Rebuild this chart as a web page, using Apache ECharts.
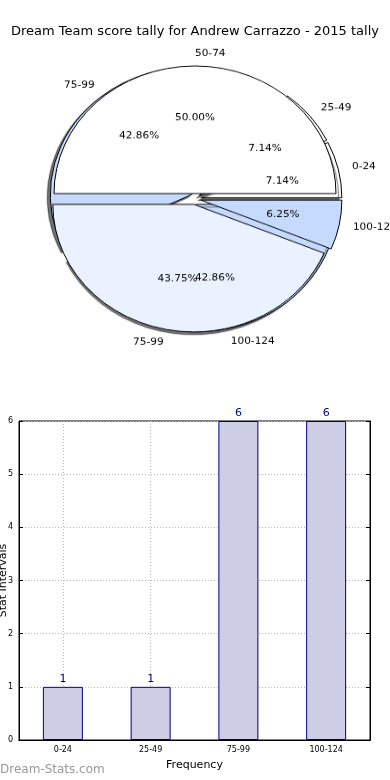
<!DOCTYPE html>
<html><head><meta charset="utf-8">
<script src="https://cdn.jsdelivr.net/npm/echarts@6/dist/echarts.min.js"></script>
<style>
html,body{margin:0;padding:0;background:#fff;}
#main{position:absolute;left:0;top:0;width:390px;height:780px;}
#pie{position:absolute;left:0;top:0;width:390px;height:400px;transform-origin:195px 199px;transform:scaleY(0.905);}
</style></head><body>
<div id="main"></div><div id="pie"></div>
<script>
const chartTitle = 'Dream Team score tally for Andrew Carrazzo - 2015 tally';
const pieACategories = ['0-24', '25-49', '75-99', '100-124'];
const pieAValues = [1, 1, 6, 6];
const pieAColors = ['#ffffff', '#ffffff', '#c6daff', '#c6daff'];
const pieBCategories = ['50-74', '75-99', '100-124'];
const pieBValues = [8, 7, 1];
const pieBColors = ['#ffffff', '#eaf2ff', '#c6daff'];
const barCategories = ['0-24', '25-49', '75-99', '100-124'];
const barValues = [1, 1, 6, 6];
const yTicks = [0, 1, 2, 3, 4, 5, 6];
const xAxisName = 'Frequency';
const yAxisName = 'Stat Intervals';
const watermark = 'Dream-Stats.com';

const FONT = 'DejaVu Sans';
const R = 141;
const CENTER = [195, 199];
const OFFSET = 6;

function sliceData(cats, vals, colors, withShadow, transparent) {
  return cats.map((c, i) => {
    const st = transparent
      ? { color: 'rgba(0,0,0,0)', borderWidth: 0 }
      : { color: colors[i], borderColor: '#000', borderWidth: 1 };
    if (withShadow && !transparent) {
      st.shadowColor = 'rgba(0,0,0,0.55)';
      st.shadowBlur = 1;
      st.shadowOffsetX = -3;
      st.shadowOffsetY = 3;
    }
    return { name: c, value: vals[i], selected: true, itemStyle: st, select: { itemStyle: st } };
  });
}

function shapeSeries(cats, vals, colors, withShadow) {
  return {
    type: 'pie', center: CENTER, radius: [0, R], startAngle: 0, clockwise: false,
    selectedMode: 'multiple', selectedOffset: OFFSET, avoidLabelOverlap: false,
    animation: false, silent: true, emphasis: { disabled: true },
    labelLayout: { hideOverlap: false },
    label: { show: true, position: 'outside', formatter: '{b}', fontSize: 10.5, color: '#000',
             fontFamily: FONT, distanceToLabelLine: 0 },
    labelLine: { show: false, length: Math.round(R * 0.1), length2: 0 },
    data: sliceData(cats, vals, colors, withShadow, false)
  };
}
function pctSeries(cats, vals) {
  return {
    type: 'pie', center: CENTER, radius: [0, 2 * (0.6 * R - 4)], startAngle: 0, clockwise: false,
    selectedMode: 'multiple', selectedOffset: OFFSET, avoidLabelOverlap: false,
    animation: false, silent: true, emphasis: { disabled: true },
    labelLayout: { hideOverlap: false },
    label: { show: true, position: 'inside', fontSize: 10.5, color: '#000', fontFamily: FONT,
             formatter: p => p.percent.toFixed(2) + '%' },
    labelLine: { show: false },
    data: sliceData(cats, vals, null, false, true)
  };
}

const pie = echarts.init(document.getElementById('pie'), null, { renderer: 'canvas' });
pie.setOption({
  animation: false,
  series: [
    shapeSeries(pieACategories, pieAValues, pieAColors, true),
    shapeSeries(pieBCategories, pieBValues, pieBColors, false),
    pctSeries(pieACategories, pieAValues),
    pctSeries(pieBCategories, pieBValues)
  ]
});

const main = echarts.init(document.getElementById('main'), null, { renderer: 'canvas' });
const gridLine = { show: true, lineStyle: { color: '#b8b8b8', type: [1, 2], width: 1 } };
main.setOption({
  animation: false,
  backgroundColor: '#fff',
  title: { text: chartTitle, left: 'center', top: 20,
           textStyle: { fontSize: 13, fontWeight: 'normal', color: '#000', fontFamily: FONT } },
  graphic: [{ type: 'text', left: 0, top: 764,
              style: { text: watermark, fontSize: 12, fontWeight: 'normal', fill: '#999999', fontFamily: FONT } }],
  grid: { left: 19, right: 20, top: 421, bottom: 40, outerBoundsMode: 'none', containLabel: false,
          show: true, borderColor: '#000', borderWidth: 1, backgroundColor: 'transparent' },
  xAxis: [
    { type: 'category', data: barCategories, position: 'bottom',
      name: xAxisName, nameLocation: 'middle', nameGap: 20, nameMoveOverlap: false,
      nameTextStyle: { fontSize: 11, color: '#000', fontFamily: FONT },
      axisLine: { lineStyle: { color: '#000' } },
      axisTick: { inside: true, alignWithLabel: true, length: 4, lineStyle: { color: '#000' } },
      axisLabel: { fontSize: 8, color: '#000', margin: 6, fontFamily: FONT },
      splitLine: Object.assign({ alignWithLabel: true }, gridLine) },
    { type: 'category', data: barCategories, position: 'top',
      axisLine: { lineStyle: { color: '#000' } },
      axisTick: { inside: true, alignWithLabel: true, length: 4, lineStyle: { color: '#000' } },
      axisLabel: { show: false }, splitLine: { show: false } }
  ],
  yAxis: [
    { type: 'value', min: yTicks[0], max: yTicks[yTicks.length - 1], interval: 1,
      name: yAxisName, nameLocation: 'middle', nameGap: 10, nameRotate: 90, nameMoveOverlap: false,
      nameTextStyle: { fontSize: 11, color: '#000', fontFamily: FONT },
      axisLine: { show: true, lineStyle: { color: '#000' } },
      axisTick: { show: true, inside: true, length: 4, lineStyle: { color: '#000' } },
      axisLabel: { fontSize: 8, color: '#000', margin: 6, fontFamily: FONT },
      splitLine: gridLine },
    { type: 'value', min: yTicks[0], max: yTicks[yTicks.length - 1], interval: 1, position: 'right',
      axisLine: { show: true, lineStyle: { color: '#000' } },
      axisTick: { show: true, inside: true, length: 4, lineStyle: { color: '#000' } },
      axisLabel: { show: false }, splitLine: { show: false } }
  ],
  series: [{
    type: 'bar', data: barValues, barWidth: 40, xAxisIndex: 0, yAxisIndex: 0,
    itemStyle: { color: '#cdcde6', borderColor: '#000080', borderWidth: 1 },
    label: { show: true, position: 'top', distance: 2, fontSize: 11, color: '#00008b', fontFamily: FONT },
    emphasis: { disabled: true }
  }]
});
</script>
</body></html>
